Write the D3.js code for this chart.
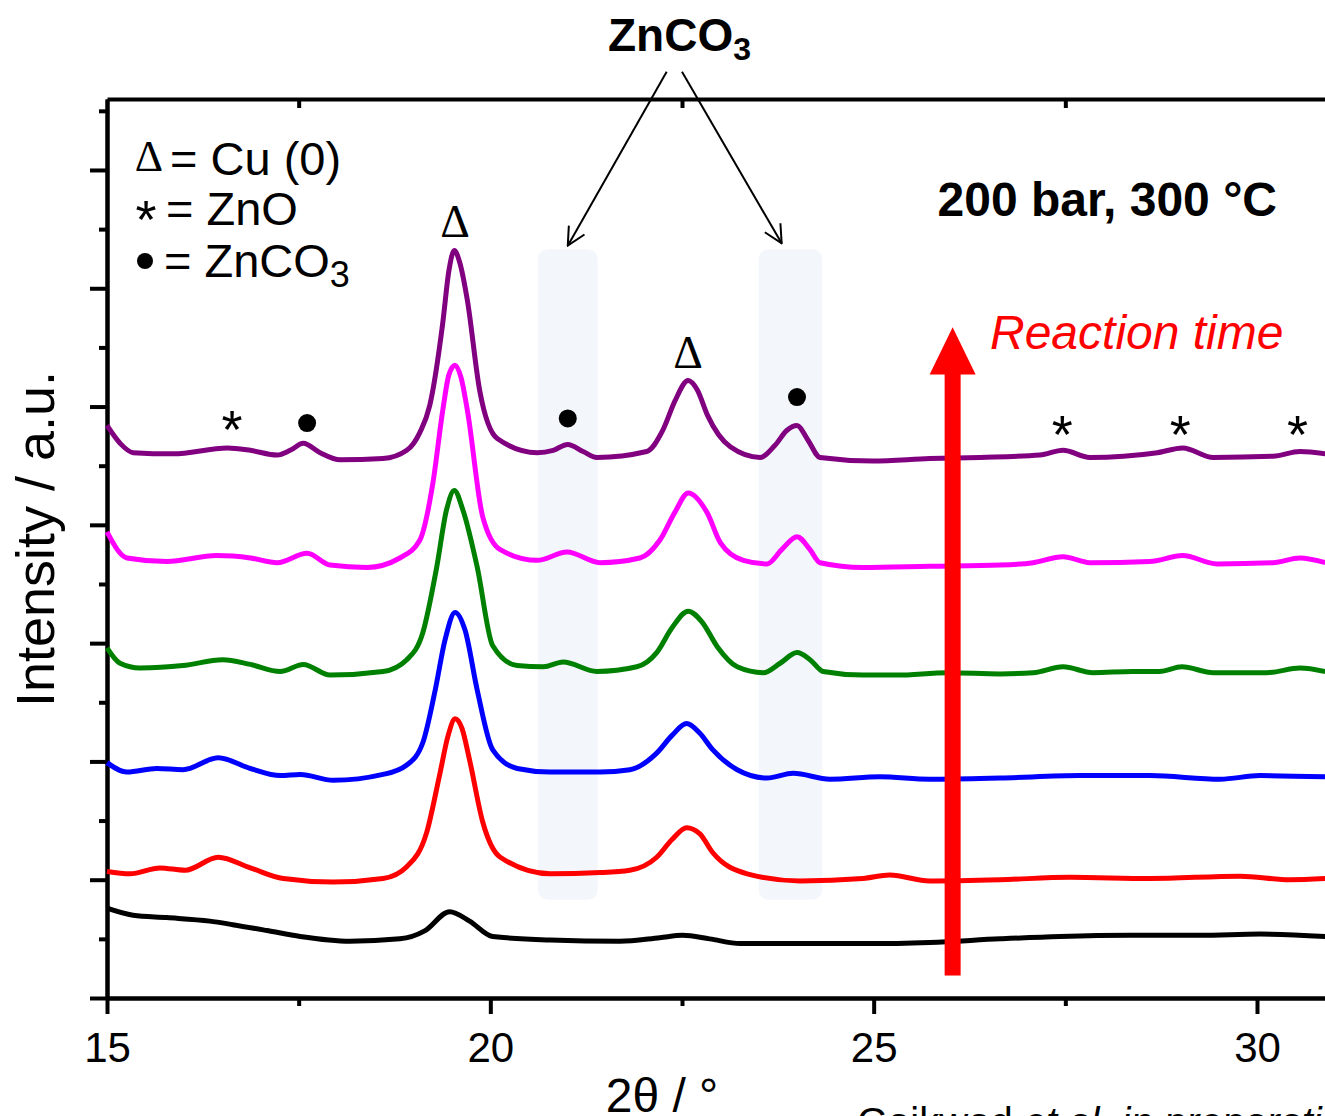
<!DOCTYPE html>
<html lang="en">
<head>
  <meta charset="UTF-8">
  <title>XRD patterns vs reaction time, 200 bar 300 C</title>
  <style>
    body { margin: 0; background: #fff; }
    svg { display: block; font-family: "Liberation Sans", Arial, sans-serif; }
  </style>
  <script src="https://d3js.org/d3.v7.min.js"></script>
</head>
<body>
  <svg width="1325" height="1116"></svg>

  <script>
    // 2theta (deg) / stacked intensity (a.u.), bottom scan first
    var blackScan = [[15.00,0.76],[15.34,0.70],[15.78,0.68],[16.34,0.65],[16.64,0.62],[17.09,0.57],[17.52,0.52],[18.17,0.48],[18.82,0.50],[19.15,0.57],[19.47,0.73],[19.73,0.65],[20.03,0.52],[20.78,0.49],[21.69,0.48],[22.21,0.51],[22.51,0.53],[22.86,0.50],[23.26,0.46],[24.04,0.46],[24.95,0.46],[25.73,0.47],[26.65,0.50],[27.43,0.52],[28.34,0.53],[29.26,0.53],[30.04,0.54],[30.89,0.52]];
    var redScan = [[15.00,1.07],[15.30,1.05],[15.69,1.10],[16.02,1.08],[16.45,1.19],[16.87,1.10],[17.30,1.01],[17.95,0.98],[18.60,1.01],[18.91,1.11],[19.17,1.40],[19.34,1.89],[19.45,2.22],[19.54,2.36],[19.63,2.28],[19.73,2.01],[19.90,1.49],[20.13,1.19],[20.78,1.05],[21.43,1.06],[21.82,1.08],[22.17,1.19],[22.37,1.34],[22.56,1.44],[22.73,1.39],[22.90,1.23],[23.35,1.05],[24.04,0.99],[24.86,1.01],[25.21,1.04],[25.73,0.99],[26.65,1.00],[27.56,1.02],[28.60,1.01],[29.78,1.03],[30.43,1.00],[30.89,1.01]];
    var blueScan = [[15.00,1.99],[15.26,1.91],[15.65,1.94],[15.99,1.93],[16.45,2.03],[16.87,1.94],[17.26,1.88],[17.52,1.89],[17.95,1.84],[18.60,1.89],[18.91,1.97],[19.12,2.16],[19.28,2.60],[19.41,3.03],[19.54,3.26],[19.67,3.11],[19.83,2.60],[20.03,2.10],[20.35,1.94],[20.78,1.91],[21.43,1.91],[21.82,1.93],[22.17,2.07],[22.37,2.22],[22.56,2.32],[22.73,2.24],[22.90,2.10],[23.22,1.93],[23.61,1.86],[23.95,1.90],[24.43,1.85],[25.08,1.87],[25.73,1.85],[26.65,1.86],[27.69,1.88],[28.60,1.88],[29.52,1.85],[30.04,1.88],[30.89,1.87]];
    var greenScan = [[15.00,2.96],[15.17,2.83],[15.43,2.79],[15.99,2.81],[16.51,2.86],[16.87,2.82],[17.26,2.76],[17.56,2.82],[17.91,2.73],[18.60,2.76],[18.91,2.86],[19.12,3.09],[19.30,3.64],[19.43,4.13],[19.53,4.29],[19.64,4.13],[19.83,3.64],[20.03,2.98],[20.35,2.81],[20.69,2.80],[20.95,2.84],[21.39,2.76],[21.91,2.80],[22.17,2.92],[22.37,3.13],[22.58,3.27],[22.76,3.18],[22.96,2.97],[23.22,2.80],[23.56,2.75],[23.78,2.83],[24.00,2.92],[24.17,2.86],[24.34,2.76],[24.86,2.73],[25.30,2.73],[25.96,2.75],[26.65,2.74],[27.08,2.75],[27.47,2.80],[27.86,2.75],[28.38,2.76],[28.73,2.76],[29.02,2.80],[29.43,2.75],[30.13,2.75],[30.56,2.79],[30.89,2.76]];
    var magentaScan = [[15.00,3.94],[15.26,3.72],[15.78,3.69],[16.43,3.74],[16.87,3.72],[17.22,3.68],[17.61,3.76],[17.91,3.66],[18.39,3.64],[18.82,3.72],[19.08,3.87],[19.25,4.35],[19.38,4.97],[19.46,5.27],[19.54,5.35],[19.62,5.24],[19.70,4.97],[19.90,4.07],[20.13,3.79],[20.61,3.70],[21.00,3.77],[21.43,3.68],[21.95,3.72],[22.21,3.87],[22.41,4.11],[22.58,4.27],[22.83,4.10],[23.00,3.85],[23.30,3.70],[23.61,3.67],[23.80,3.79],[24.00,3.90],[24.17,3.79],[24.30,3.68],[24.86,3.64],[25.73,3.65],[26.65,3.66],[27.08,3.68],[27.47,3.73],[27.82,3.68],[28.60,3.69],[29.03,3.74],[29.48,3.67],[30.21,3.68],[30.56,3.72],[30.89,3.68]];
    var purpleScan = [[15.00,4.84],[15.17,4.69],[15.34,4.61],[15.86,4.60],[16.57,4.65],[16.87,4.63],[17.22,4.59],[17.39,4.63],[17.56,4.69],[17.78,4.61],[18.04,4.55],[18.60,4.56],[18.91,4.63],[19.08,4.78],[19.21,5.01],[19.38,5.71],[19.46,6.15],[19.53,6.32],[19.60,6.22],[19.70,5.90],[19.86,5.14],[20.09,4.73],[20.61,4.61],[20.82,4.63],[21.01,4.68],[21.21,4.62],[21.39,4.57],[22.04,4.62],[22.25,4.80],[22.41,5.05],[22.58,5.22],[22.70,5.14],[22.83,4.93],[23.13,4.66],[23.52,4.57],[23.71,4.67],[23.87,4.80],[24.00,4.84],[24.14,4.72],[24.30,4.57],[24.99,4.54],[25.73,4.56],[26.39,4.57],[27.17,4.59],[27.47,4.63],[27.82,4.57],[28.70,4.61],[29.03,4.65],[29.43,4.57],[30.21,4.58],[30.56,4.62],[30.89,4.60]];

    var scanColors = ["#000000", "#ff0000", "#0000ff", "#008000", "#ff00ff", "#800080"];

    // phase markers (2theta, intensity of marker centre)
    var cuMarks = [[19.54, 6.56], [22.58, 5.45]];
    var znoMarks = [[16.63, 4.90], [27.46, 4.86], [29.00, 4.86], [30.53, 4.86]];
    var znco3Marks = [[17.61, 4.86], [21.01, 4.90], [24.00, 5.08]];

    // shaded ZnCO3 regions and the arrows pointing at them
    var bands = [[20.62, 21.40], [23.50, 24.33]];
    var bandSpan = [0.83, 6.33];
    var arrowFrom = [[22.30, 7.83], [22.50, 7.83]];
    var arrowTo = [[21.01, 6.36], [23.80, 6.38]];

    // reaction time arrow: 2theta, bottom, head base, tip
    var timeArrow = [26.03, 0.19, 5.27, 5.67];

    var xMajor = [15, 20, 25, 30];
    var xMinor = [17.5, 22.5, 27.5];
    var yMajor = [0, 1, 2, 3, 4, 5, 6, 7];
    var yMinor = [0.5, 1.5, 2.5, 3.5, 4.5, 5.5, 6.5, 7.5];

    var svg = d3.select("svg");
    var x = d3.scaleLinear().domain([15, 30.887]).range([107, 1325]);
    var y = d3.scaleLinear().domain([0, 7.6]).range([998, 99]);

    var scans = [blackScan, redScan, blueScan, greenScan, magentaScan, purpleScan].map(function(pts, i) {
      return { pts: pts, color: scanColors[i] };
    });

    // light shaded bands behind everything
    svg.selectAll(".band").data(bands).enter().append("rect")
      .attr("class", "band")
      .attr("x", d => x(d[0]))
      .attr("width", d => x(d[1]) - x(d[0]))
      .attr("y", y(bandSpan[1]))
      .attr("height", y(bandSpan[0]) - y(bandSpan[1]))
      .attr("rx", 10)
      .attr("fill", "#f3f6fb");

    // axes
    function styleAxis(g) {
      g.selectAll("path, line").attr("stroke", "#000").attr("stroke-width", 4);
      g.selectAll("text").remove();
    }

    var bottom = svg.append("g").attr("transform", "translate(0," + y(0) + ")")
      .call(d3.axisBottom(x).tickValues(xMajor).tickSize(16).tickSizeOuter(0));
    styleAxis(bottom);
    bottom.selectAll(".tick").append("text")
      .attr("y", 64).attr("text-anchor", "middle")
      .attr("font-size", 42).attr("fill", "#000")
      .text(d => d);

    svg.append("g").attr("transform", "translate(0," + y(0) + ")")
      .call(d3.axisBottom(x).tickValues(xMinor).tickSize(8).tickSizeOuter(0))
      .call(styleAxis);

    // top frame line with inward minor ticks
    svg.append("g").attr("transform", "translate(0," + y(7.6) + ")")
      .call(d3.axisBottom(x).tickValues(xMinor).tickSize(9).tickSizeOuter(0))
      .call(styleAxis);

    svg.append("g").attr("transform", "translate(" + x(15) + ",0)")
      .call(d3.axisLeft(y).tickValues(yMajor).tickSize(17).tickSizeOuter(0))
      .call(styleAxis);
    svg.append("g").attr("transform", "translate(" + x(15) + ",0)")
      .call(d3.axisLeft(y).tickValues(yMinor).tickSize(8).tickSizeOuter(0))
      .call(styleAxis);

    // scans
    var line = d3.line()
      .x(d => x(d[0]))
      .y(d => y(d[1]))
      .curve(d3.curveMonotoneX);

    svg.selectAll(".scan").data(scans).enter().append("path")
      .attr("class", "scan")
      .attr("d", d => line(d.pts))
      .attr("fill", "none")
      .attr("stroke", d => d.color)
      .attr("stroke-width", 5)
      .attr("stroke-linejoin", "round");

    // markers over the peaks
    svg.selectAll(".cu").data(cuMarks).enter().append("text")
      .attr("x", d => x(d[0])).attr("y", d => y(d[1]) + 15)
      .attr("text-anchor", "middle")
      .attr("font-family", "'Liberation Serif', 'Times New Roman', serif")
      .attr("font-size", 46)
      .text("\u0394");

    svg.selectAll(".zno").data(znoMarks).enter().append("text")
      .attr("x", d => x(d[0])).attr("y", d => y(d[1]) + 30)
      .attr("text-anchor", "middle")
      .attr("font-size", 54)
      .text("*");

    svg.selectAll(".znco3").data(znco3Marks).enter().append("circle")
      .attr("cx", d => x(d[0])).attr("cy", d => y(d[1]))
      .attr("r", 9).attr("fill", "#000");

    // ZnCO3 call-out arrows
    svg.append("defs").append("marker")
      .attr("id", "openHead")
      .attr("viewBox", "0 0 20 20")
      .attr("refX", 19).attr("refY", 10)
      .attr("markerWidth", 20).attr("markerHeight", 20)
      .attr("markerUnits", "userSpaceOnUse")
      .attr("orient", "auto")
      .append("path")
      .attr("d", "M1,1 L19,10 L1,19")
      .attr("fill", "none").attr("stroke", "#000").attr("stroke-width", 2);

    svg.selectAll(".callout").data(arrowTo).enter().append("line")
      .attr("x1", (d, i) => x(arrowFrom[i][0])).attr("y1", (d, i) => y(arrowFrom[i][1]))
      .attr("x2", d => x(d[0])).attr("y2", d => y(d[1]))
      .attr("stroke", "#000").attr("stroke-width", 2)
      .attr("marker-end", "url(#openHead)");

    var head = svg.append("text").attr("x", 608).attr("y", 51)
      .attr("font-size", 46).attr("font-weight", "bold");
    head.append("tspan").text("ZnCO");
    head.append("tspan").attr("font-size", 32).attr("dy", 9).text("3");

    // reaction time arrow
    var ax = x(timeArrow[0]);
    svg.append("rect")
      .attr("x", ax - 8).attr("width", 16)
      .attr("y", y(timeArrow[2]) - 1)
      .attr("height", y(timeArrow[1]) - y(timeArrow[2]) + 1)
      .attr("fill", "#ff0000");
    svg.append("path")
      .attr("d", "M" + (ax - 23) + "," + y(timeArrow[2]) + "L" + ax + "," + y(timeArrow[3]) + "L" + (ax + 23) + "," + y(timeArrow[2]) + "Z")
      .attr("fill", "#ff0000");

    svg.append("text").attr("x", 990).attr("y", 349)
      .attr("font-size", 48).attr("font-style", "italic").attr("fill", "#ff0000")
      .text("Reaction time");

    svg.append("text").attr("x", 1277).attr("y", 216)
      .attr("text-anchor", "end")
      .attr("font-size", 48).attr("font-weight", "bold")
      .text("200 bar, 300 \u00b0C");

    // legend
    svg.append("text").attr("x", 149).attr("y", 171)
      .attr("text-anchor", "middle")
      .attr("font-family", "'Liberation Serif', 'Times New Roman', serif")
      .attr("font-size", 44).text("\u0394");
    svg.append("text").attr("x", 170).attr("y", 175).attr("font-size", 47).text("= Cu (0)");

    svg.append("text").attr("x", 146).attr("y", 238)
      .attr("text-anchor", "middle").attr("font-size", 54).text("*");
    svg.append("text").attr("x", 166).attr("y", 225).attr("font-size", 47).text("= ZnO");

    svg.append("circle").attr("cx", 145).attr("cy", 261).attr("r", 8).attr("fill", "#000");
    var lg = svg.append("text").attr("x", 164).attr("y", 277).attr("font-size", 47);
    lg.append("tspan").text("= ZnCO");
    lg.append("tspan").attr("font-size", 36).attr("dy", 10).text("3");

    // axis titles
    svg.append("text")
      .attr("transform", "translate(54,539) rotate(-90)")
      .attr("text-anchor", "middle")
      .attr("font-size", 54)
      .text("Intensity / a.u.");

    svg.append("text").attr("x", 662).attr("y", 1112)
      .attr("text-anchor", "middle").attr("font-size", 48)
      .text("2\u03b8 / \u00b0");

    var cite = svg.append("text").attr("x", 857).attr("y", 1136).attr("font-size", 40);
    cite.append("tspan").text("Gaikwad ");
    cite.append("tspan").attr("font-style", "italic").text("et al. in preparation");
  </script>
</body>
</html>
